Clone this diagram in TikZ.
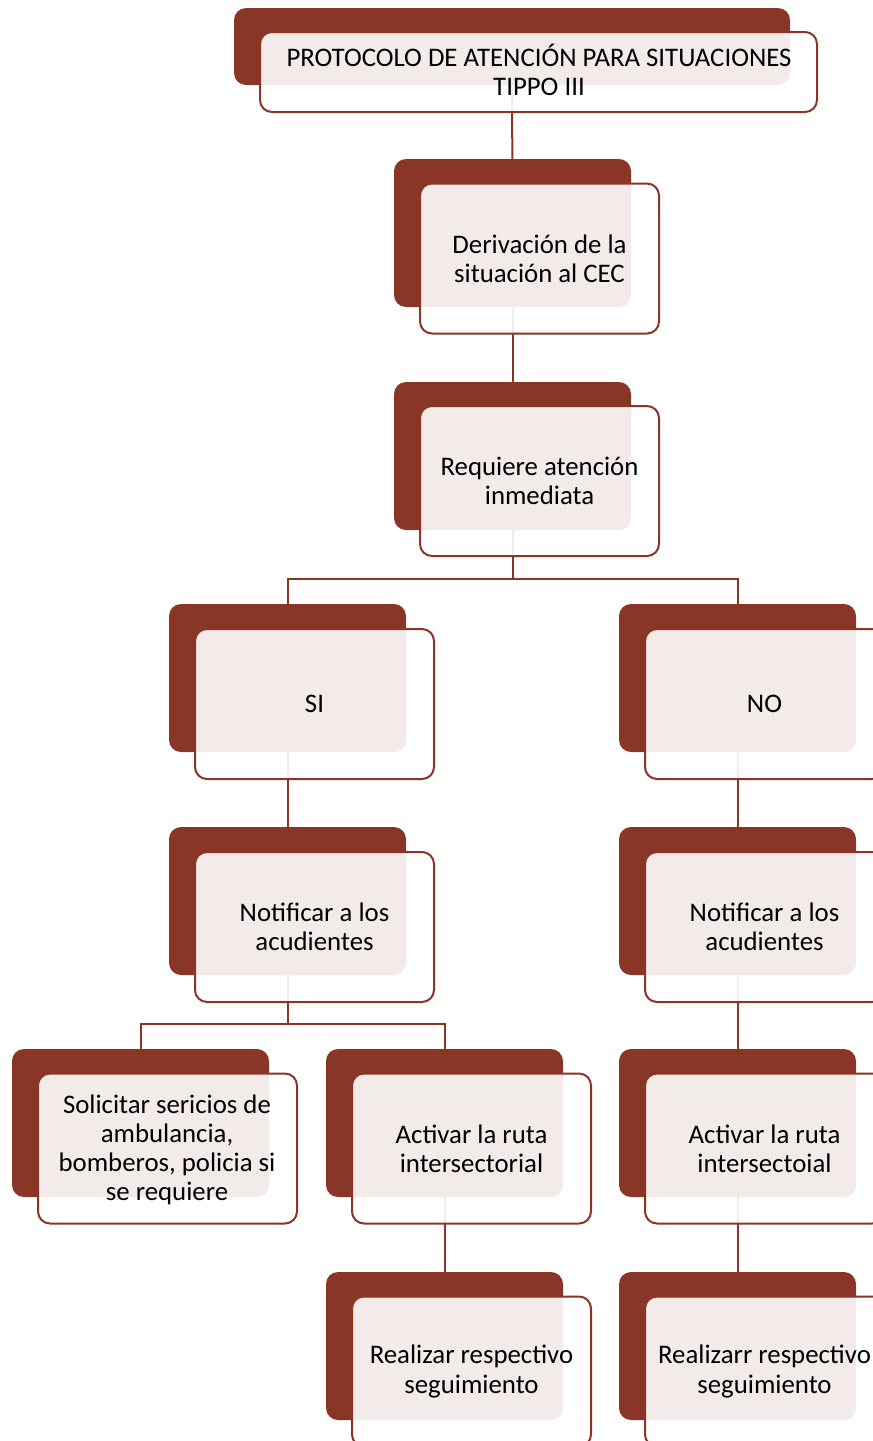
\documentclass[tikz,border=0pt]{standalone}
\usepackage{fontspec}
\setmainfont{Carlito}
\pgfdeclarelayer{bg}
\pgfsetlayers{bg,main}
\definecolor{rust}{HTML}{893626}
\tikzset{
  backbox/.style={fill=rust, rounded corners=12pt, minimum width=237pt, minimum height=148pt, inner sep=0pt},
  frontbox/.style={draw=rust, line width=2pt, fill=white, fill opacity=0.9, text opacity=1,
    rounded corners=12pt, minimum width=239pt, minimum height=150pt, inner sep=0pt,
    align=center, font=\fontsize{26.8}{29.2}\selectfont},
  link/.style={draw=rust, line width=2pt},
}
\begin{document}
\begin{tikzpicture}[x=1pt,y=-1pt]
\useasboundingbox (0,0) rectangle (873,1441);
\clip (0,0) rectangle (873,1441);
% title
\node[backbox, minimum width=556pt, minimum height=77pt] (tb) at (512,46.5) {};
\node[frontbox, minimum width=557pt, minimum height=80pt] (tf) at (538.5,72) {};
\node[align=center, inner sep=0pt, font=\fontsize{26.8}{29.2}\selectfont] (tt) at (539,70) {PROTOCOLO DE ATENCIÓN PARA SITUACIONES\\TIPPO III};
% derivacion
\node[backbox] (b2) at (512.5,233) {};
\node[frontbox] (f2) at (539.5,258.5) {Derivación de la\\situación al CEC};
% requiere
\node[backbox] (b3) at (512.5,456) {};
\node[frontbox] (f3) at (539.5,481) {Requiere atención\\inmediata};
% SI / NO
\node[backbox] (bsi) at (287.5,678) {};
\node[frontbox] (fsi) at (314.5,704) {SI};
\node[backbox] (bno) at (737.5,678) {};
\node[frontbox] (fno) at (764.5,704) {NO};
% notificar
\node[backbox] (bnsi) at (287.5,901) {};
\node[frontbox] (fnsi) at (314.5,927) {Notificar a los\\acudientes};
\node[backbox] (bnno) at (737.5,901) {};
\node[frontbox] (fnno) at (764.5,927) {Notificar a los\\acudientes};
% third row
\node[backbox, minimum width=257pt] (bsol) at (140.5,1123) {};
\node[frontbox, minimum width=259pt] (fsol) at (167.5,1148.5) {};
\node[align=center, inner sep=0pt, font=\fontsize{26.8}{29.2}\selectfont] (tsol) at (167,1150) {Solicitar sericios de\\ambulancia,\\bomberos, policia si\\se requiere};
\node[backbox] (basi) at (444.5,1123) {};
\node[frontbox] (fasi) at (471.5,1148.5) {Activar la ruta\\intersectorial};
\node[backbox] (bano) at (737.5,1123) {};
\node[frontbox] (fano) at (764.5,1148.5) {Activar la ruta\\intersectoial};
% fourth row
\node[backbox] (brsi) at (444.5,1346) {};
\node[frontbox] (frsi) at (471.5,1371.5) {Realizar respectivo\\seguimiento};
\node[backbox] (brno) at (737.5,1346) {};
\node[frontbox] (frno) at (764.5,1371.5) {Realizarr respectivo\\seguimiento};
% connectors
\begin{pgfonlayer}{bg}
\coordinate (j1) at (512.5,579);
\coordinate (j2) at (287.5,1024);
\draw[link] (tb.center) -- (b2.center);
\draw[link] (b2.center) -- (b3.center);
\draw[link] (b3.center) -- (j1) -| (bsi.center);
\draw[link] (j1) -| (bno.center);
\draw[link] (bsi.center) -- (bnsi.center);
\draw[link] (bno.center) -- (bnno.center);
\draw[link] (bnsi.center) -- (j2) -| (bsol.center);
\draw[link] (j2) -| (basi.center);
\draw[link] (basi.center) -- (brsi.center);
\draw[link] (bnno.center) -- (bano.center);
\draw[link] (bano.center) -- (brno.center);
\end{pgfonlayer}
\end{tikzpicture}
\end{document}
